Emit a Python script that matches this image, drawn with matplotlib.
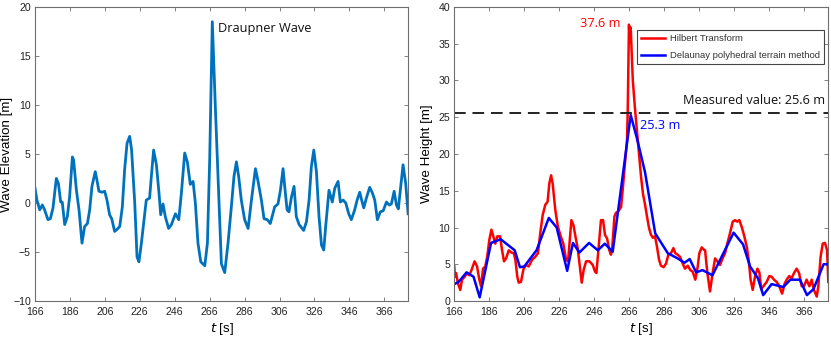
import matplotlib
matplotlib.use("Agg")
import matplotlib.pyplot as plt
import numpy as np

# ---------------- data ----------------
# Left panel: Draupner wave elevation time series
elev_t = [166.0, 167.1, 168.7, 170.2, 171.5, 173.4, 174.8, 176.3, 178.2, 179.4, 180.7, 181.6,
          183.0, 184.5, 185.8, 187.4, 188.1, 189.7, 191.2, 192.9, 194.4, 196.0, 197.3, 198.6,
          200.5, 201.5, 202.6, 204.4, 205.9, 207.2, 208.7, 209.9, 211.6, 212.9, 214.5, 216.0,
          217.3, 218.7, 220.2, 221.3, 223.1, 224.4, 225.5, 226.9, 228.4, 229.7, 231.6, 232.6,
          233.9, 235.5, 237.0, 237.96, 239.3, 240.6, 242.5, 244.1, 246.4, 248.3, 249.8, 251.7,
          253.2, 254.9, 256.5, 257.8, 259.3, 260.9, 263.2, 264.7, 266.0, 267.5, 269.3, 270.8,
          272.7, 274.6, 276.5, 278.4, 279.9, 281.3, 282.6, 284.1, 286.0, 288.0, 289.9, 292.2,
          293.7, 295.6, 297.1, 299.0, 300.7, 301.9, 303.2, 305.1, 306.5, 308.0, 308.95, 310.3,
          311.4, 312.8, 314.3, 315.6, 317.2, 318.5, 319.8, 321.4, 322.9, 324.2, 325.6, 327.1,
          328.6, 330.0, 331.3, 332.4, 334.3, 336.2, 337.6, 339.5, 340.8, 342.4, 343.9, 345.6,
          347.1, 349.0, 350.4, 351.9, 353.0, 354.2, 355.7, 357.6, 359.2, 360.5, 362.0, 363.7,
          365.3, 367.2, 368.7, 370.0, 371.6, 372.9, 374.0, 375.4, 376.7, 378.2, 379.6]
elev_v = [1.5, 0.3, -0.7, -0.2, -0.7, -1.7, -1.6, -0.5, 2.5, 2.0, 0.1, 0.1,
          -2.2, -1.4, 0.6, 4.7, 4.4, 1.3, -0.7, -4.1, -2.4, -2.1, -0.7, 1.7,
          3.2, 2.3, 1.2, 1.1, 1.2, 0.3, -1.2, -1.6, -2.9, -2.7, -2.4, -0.4,
          3.4, 6.1, 6.8, 5.4, 0.0, -5.5, -6.0, -4.1, -1.7, 0.3, 0.5, 2.7,
          5.4, 3.9, 1.0, -1.2, -0.1, -1.4, -2.6, -2.2, -1.1, -1.7, 1.0, 5.1,
          4.2, 1.9, 2.2, 0.0, -4.1, -6.0, -6.4, -4.1, 4.4, 18.5, 9.5, 2.7,
          -6.2, -7.1, -4.1, -0.4, 2.7, 4.2, 2.7, 0.3, -1.7, -2.6, 0.3, 3.5,
          2.2, 0.3, -1.6, -1.7, -2.1, -1.3, -0.4, -0.1, 1.3, 3.5, 1.7, -0.7,
          -0.9, 0.6, 1.7, -1.4, -2.2, -2.5, -2.8, -1.9, 0.3, 3.7, 5.4, 3.2,
          -1.4, -4.3, -4.8, -2.4, 1.3, 0.1, 1.5, 2.2, 0.1, 0.3, 0.0, -1.1,
          -1.7, -0.7, 0.3, 1.1, 0.3, -0.5, 0.5, 1.6, 1.0, 0.3, -1.7, -0.9,
          -0.8, 0.1, -0.2, -0.1, 1.2, -0.2, -0.6, 1.7, 3.9, 2.0, -1.1]

# Right panel: Hilbert transform wave height
hil_t = [166.0, 166.3, 167.0, 168.1, 169.4, 170.4, 171.9, 173.3, 174.6, 175.8, 177.6, 179.0,
         180.3, 181.3, 182.4, 183.7, 184.8, 186.0, 187.2, 188.3, 189.4, 190.6, 192.1, 193.3,
         194.4, 195.6, 197.1, 198.6, 200.0, 200.9, 202.0, 202.8, 204.1, 205.6, 207.0, 208.5,
         210.4, 212.2, 213.8, 215.1, 216.5, 218.0, 219.3, 220.3, 221.3, 222.2, 223.7, 225.2,
         226.8, 228.3, 229.9, 231.0, 232.0, 232.9, 234.1, 235.2, 236.5, 237.6, 238.8, 239.9,
         241.3, 243.2, 245.1, 246.4, 247.2, 248.3, 249.8, 251.0, 252.1, 253.3, 254.6, 255.5,
         256.3, 257.5, 258.4, 259.7, 261.3, 262.4, 263.5, 264.7, 265.1, 265.8, 266.3, 266.8,
         268.0, 269.3, 270.8, 271.7, 272.7, 273.8, 275.0, 276.1, 277.3, 278.4, 279.5, 280.7,
         281.8, 283.0, 284.1, 285.6, 287.0, 288.3, 289.8, 291.2, 292.3, 293.6, 295.0, 296.5,
         297.8, 299.4, 300.9, 302.2, 303.7, 305.1, 306.0, 307.4, 308.5, 309.3, 310.6, 312.1,
         313.6, 315.0, 316.3, 317.8, 319.3, 320.7, 322.0, 323.5, 325.1, 326.4, 327.7, 328.9,
         330.2, 331.5, 333.1, 334.2, 335.3, 336.5, 337.8, 339.2, 340.3, 341.4, 342.6, 344.5,
         346.0, 347.3, 348.7, 350.2, 351.7, 353.3, 354.8, 355.9, 357.4, 358.8, 360.1, 361.6,
         363.0, 364.5, 365.8, 367.3, 368.9, 370.2, 371.5, 373.1, 374.0, 375.3, 376.5, 377.8,
         379.0, 379.7]
hil_v = [4.7, 3.3, 3.8, 2.4, 1.5, 2.9, 3.3, 3.8, 3.5, 4.2, 5.4, 4.7,
         2.9, 2.0, 4.4, 4.7, 6.0, 8.3, 9.7, 8.8, 7.8, 8.8, 8.8, 6.9,
         5.4, 5.8, 6.9, 6.6, 6.5, 5.6, 3.3, 2.5, 2.6, 4.4, 4.9, 4.7,
         5.6, 6.0, 6.5, 9.2, 11.7, 13.1, 13.5, 16.0, 17.1, 16.0, 12.4, 10.1,
         8.8, 7.8, 5.6, 5.4, 8.3, 11.0, 10.3, 8.8, 7.2, 5.0, 2.5, 4.2,
         5.4, 5.4, 4.9, 4.0, 3.8, 6.9, 11.0, 11.0, 9.0, 8.5, 6.9, 6.3,
         7.4, 11.5, 12.0, 12.2, 12.8, 15.6, 18.7, 21.9, 26.0, 37.6, 35.2, 37.2,
         30.0, 26.0, 21.9, 19.6, 16.9, 14.6, 13.1, 11.5, 9.9, 9.0, 8.6, 8.8,
         7.4, 5.6, 4.8, 4.6, 5.1, 6.3, 6.5, 7.2, 6.5, 6.3, 6.0, 5.1,
         4.4, 4.8, 4.2, 4.0, 2.9, 4.7, 6.5, 7.3, 7.0, 6.9, 3.8, 1.3,
         3.8, 5.8, 5.4, 4.9, 5.8, 6.5, 7.8, 9.2, 10.8, 11.0, 10.8, 11.0,
         10.1, 9.0, 7.4, 5.6, 2.9, 1.5, 3.3, 4.4, 3.9, 1.6, 2.0, 2.6,
         3.4, 3.3, 2.9, 2.6, 2.0, 1.0, 2.4, 2.9, 3.4, 3.1, 3.8, 4.4,
         3.8, 2.0, 2.0, 2.9, 2.0, 2.9, 1.5, 0.6, 2.0, 6.0, 7.8, 7.9,
         6.9, 2.6]

# Right panel: Delaunay polyhedral terrain method
del_t = [166.0, 168.5, 173.0, 177.0, 180.5, 187.0, 192.5, 200.5, 203.5, 206.0, 213.0, 220.0,
         224.5, 230.5, 233.8, 237.5, 243.0, 248.0, 252.0, 256.5, 266.8, 270.5, 275.0, 280.8,
         288.0, 293.6, 297.5, 300.5, 304.2, 307.8, 313.5, 325.6, 331.0, 335.0, 339.5, 342.5,
         347.3, 354.0, 358.0, 363.5, 367.5, 371.2, 377.0, 379.7]
del_v = [2.3, 2.6, 3.9, 3.3, 0.5, 7.9, 8.4, 6.9, 4.6, 4.7, 6.9, 11.3,
         10.0, 4.1, 7.9, 6.6, 7.9, 6.9, 7.8, 6.7, 25.3, 22.0, 17.5, 9.2,
         6.5, 5.8, 5.2, 5.7, 3.9, 4.2, 3.5, 9.3, 7.7, 4.7, 3.1, 0.8,
         2.3, 1.9, 2.9, 2.9, 0.8, 1.6, 5.0, 5.0]

measured_value = 25.6
x_ticks = [166, 186, 206, 226, 246, 266, 286, 306, 326, 346, 366]
x_limits = (166, 379.7)

# ---------------- style ----------------
W, H = 831, 337
fig = plt.figure(figsize=(W / 100, H / 100), dpi=100)
plt.rcParams['font.family'] = ['Liberation Sans', 'DejaVu Sans']

frame_col = '#6e6e6e'
tick_fs = 7.6
label_fs = 9.6


def style_axes(ax):
    for s in ax.spines.values():
        s.set_color(frame_col)
        s.set_linewidth(0.8)
    ax.tick_params(direction='in', length=3, width=0.6, color=frame_col,
                   top=True, right=True, labelsize=tick_fs, labelcolor='#222222', pad=3)
    ax.tick_params(axis='x', pad=4.5)
    ax.set_xlim(*x_limits)
    ax.set_xticks(x_ticks)
    ax.set_xlabel(r'$\it{t}$ [s]', fontsize=label_fs)
    ax.xaxis.set_label_coords(0.5, -0.068)


# Left
ax1 = fig.add_axes([35 / W, 1 - 301 / H, 373.3 / W, 294 / H])
ax1.plot(elev_t, elev_v, color='#0072BD', lw=2.0)
ax1.set_ylim(-10, 20)
ax1.set_yticks(range(-10, 21, 5))
style_axes(ax1)
ax1.set_ylabel('Wave Elevation [m]', fontsize=label_fs)
ax1.yaxis.set_label_coords(-0.059, 0.5)
i_pk = int(np.argmax(elev_v))
ax1.text(elev_t[i_pk] + 3.5, elev_v[i_pk] - 0.7, 'Draupner Wave', fontsize=9.2,
         family=['Open Sans', 'DejaVu Sans'], ha='left', va='center', color='#111111')

# Right
ax2 = fig.add_axes([454.3 / W, 1 - 301 / H, 374 / W, 294 / H])
ax2.plot(hil_t, hil_v, color='#ff0000', lw=1.8, label='Hilbert Transform')
ax2.plot(del_t, del_v, color='#0000ff', lw=1.8, label='Delaunay polyhedral terrain method')
ax2.axhline(measured_value, color='#222222', lw=1.4, dashes=(6, 3.5))
ax2.set_ylim(0, 40)
ax2.set_yticks(range(0, 41, 5))
style_axes(ax2)
ax2.set_ylabel('Wave Height [m]', fontsize=label_fs)
ax2.yaxis.set_label_coords(-0.057, 0.5)

ih = int(np.argmax(hil_v))
ax2.text(hil_t[ih] - 4.8, hil_v[ih] + 0.1, f'{hil_v[ih]:.1f} m', color='#ff0000',
         fontsize=9.2, family=['Open Sans', 'DejaVu Sans'], ha='right', va='center')
idl = int(np.argmax(del_v))
ax2.text(del_t[idl] + 5.5, del_v[idl] - 1.4, f'{del_v[idl]:.1f} m', color='#0000ff',
         fontsize=9.2, family=['Open Sans', 'DejaVu Sans'], ha='left', va='center')
ax2.text(x_limits[1] - 1.9, measured_value + 1.65, f'Measured value: {measured_value:.1f} m',
         color='#111111', fontsize=9.2, family=['Open Sans', 'DejaVu Sans'],
         ha='right', va='center')

leg = ax2.legend(loc='upper right', bbox_to_anchor=(0.9885, 0.922), borderaxespad=0,
                 fontsize=6.8, handlelength=2.5, handletextpad=0.5, labelspacing=0.85,
                 borderpad=0.45, fancybox=False, framealpha=1, edgecolor='#444444')
leg.get_frame().set_linewidth(0.8)
for t in leg.get_texts():
    t.set_color('#333333')

fig.savefig('out.png', dpi=100)
